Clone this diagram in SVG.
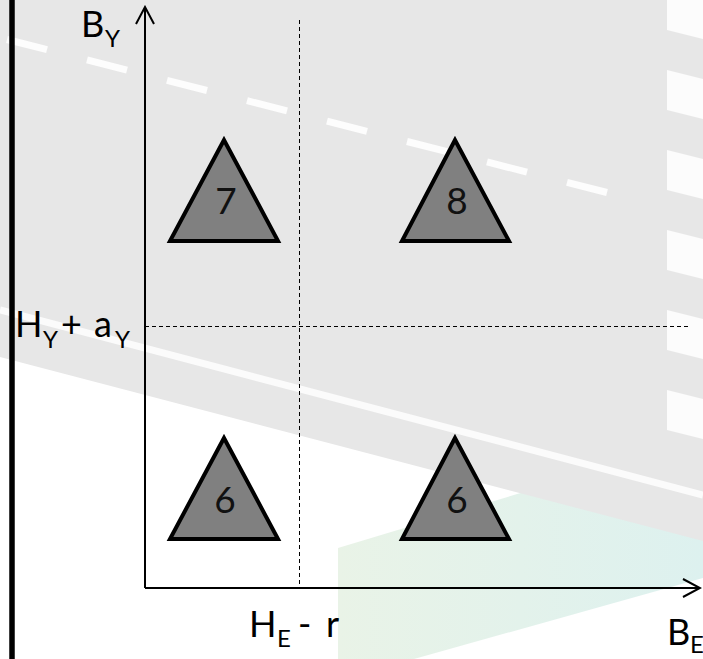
<svg xmlns="http://www.w3.org/2000/svg" width="703" height="659" viewBox="0 0 703 659">
<defs>
<linearGradient id="grass" x1="338" y1="0" x2="703" y2="0" gradientUnits="userSpaceOnUse">
<stop offset="0" stop-color="#e9f3e7"/>
<stop offset="1" stop-color="#ddf1ef"/>
</linearGradient>
<marker id="chev" viewBox="0 0 20 20" refX="18" refY="10" markerWidth="20" markerHeight="20" markerUnits="userSpaceOnUse" orient="auto">
<path d="M1,1 L18,10 L1,19" fill="none" stroke="#000" stroke-width="2"/>
</marker>
<style>
.tri{fill:#808080;stroke:#000;stroke-width:4;stroke-linejoin:miter}
.num{font-family:Lato,"Open Sans","Liberation Sans",sans-serif;font-size:37px;fill:#111;text-anchor:middle}
.lbl{font-family:Lato,"Open Sans","Liberation Sans",sans-serif;font-size:36px;fill:#000}
.sub{font-size:24px}
.axis{stroke:#000;stroke-width:2;fill:none}
.guide{stroke:#000;stroke-width:1;stroke-dasharray:4 3;fill:none}
.dash{stroke:#fdfdfd;stroke-width:7}
</style>
</defs>
<rect x="0" y="0" width="703" height="659" fill="#ffffff"/>
<g id="background">
<polygon points="338,548 620,463 703,463 703,578 414,659 338,659" fill="url(#grass)"/>
<polygon points="0,0 703,0 703,541 0,357" fill="#e7e7e7"/>
<line x1="0" y1="310" x2="703" y2="495" stroke="#fbfbfb" stroke-width="7"/>
<g fill="#fcfcfc">
<polygon points="667,-10 703,-1 703,39 667,30"/>
<polygon points="667,70 703,79 703,119 667,110"/>
<polygon points="667,150 703,159 703,199 667,190"/>
<polygon points="667,230 703,239 703,279 667,270"/>
<polygon points="667,310 703,319 703,359 667,350"/>
<polygon points="667,390 703,399 703,439 667,430"/>
</g>
<g class="dash">
<line x1="7" y1="39.5" x2="47" y2="49.7"/>
<line x1="87" y1="59.9" x2="127" y2="70.1"/>
<line x1="167" y1="80.3" x2="207" y2="90.5"/>
<line x1="247" y1="100.7" x2="287" y2="110.9"/>
<line x1="327" y1="121.1" x2="367" y2="131.3"/>
<line x1="407" y1="141.5" x2="447" y2="151.7"/>
<line x1="487" y1="161.9" x2="527" y2="172.1"/>
<line x1="567" y1="182.3" x2="607" y2="192.5"/>
</g>
<line x1="12" y1="0" x2="12" y2="659" stroke="#000" stroke-width="5.5"/>
</g>
<g id="connectors">
<line class="guide" x1="299.5" y1="20" x2="299.5" y2="587"/>
<line class="guide" x1="145" y1="326.5" x2="690" y2="326.5"/>
<line class="axis" x1="145" y1="588" x2="145" y2="7" marker-end="url(#chev)"/>
<line class="axis" x1="145" y1="588" x2="700" y2="588" marker-end="url(#chev)"/>
</g>
<g id="node-7">
<polygon class="tri" points="224,140 170,241 278,241"/>
<text class="num" x="226" y="214">7</text>
</g>
<g id="node-8">
<polygon class="tri" points="455,140 402,241 509,241"/>
<text class="num" x="457" y="214">8</text>
</g>
<g id="node-6a">
<polygon class="tri" points="224,438 170,539 278,539"/>
<text class="num" x="225" y="513">6</text>
</g>
<g id="node-6b">
<polygon class="tri" points="455,438 402,539 509,539"/>
<text class="num" x="457" y="513">6</text>
</g>
<g id="labels">
<text class="lbl"><tspan x="81" y="37">B</tspan><tspan class="sub" x="105" y="47">Y</tspan></text>
<text class="lbl"><tspan x="15" y="337">H</tspan><tspan class="sub" x="43" y="348">Y</tspan><tspan x="61" y="337">+</tspan><tspan x="94" y="337">a</tspan><tspan class="sub" x="115" y="348">Y</tspan></text>
<text class="lbl"><tspan x="249" y="637">H</tspan><tspan class="sub" x="277" y="647">E</tspan><tspan x="298" y="637">-</tspan><tspan x="326" y="637">r</tspan></text>
<text class="lbl"><tspan x="667" y="645">B</tspan><tspan class="sub" x="690" y="653" font-size="20">E</tspan></text>
</g>
</svg>
